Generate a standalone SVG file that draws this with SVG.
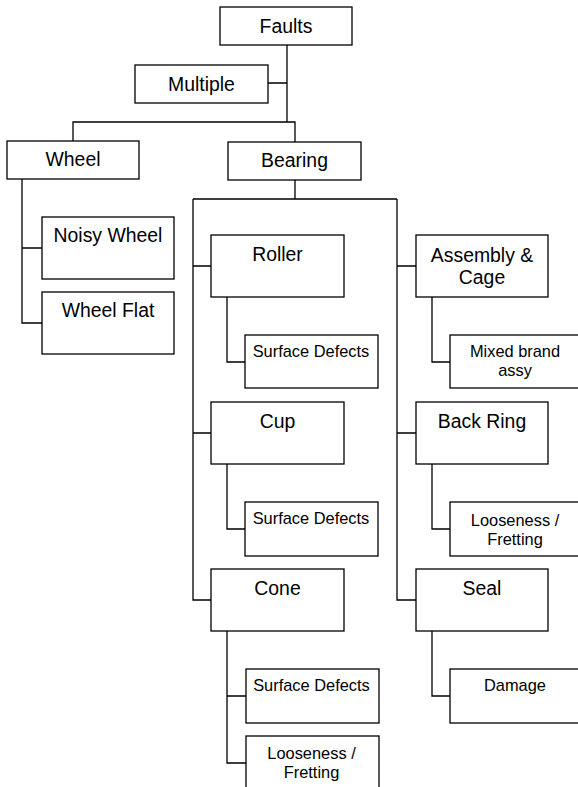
<svg xmlns="http://www.w3.org/2000/svg" width="578" height="787" viewBox="0 0 578 787">
<style>
.box{fill:#fff;stroke:#000;stroke-width:1.3}
.c{fill:none;stroke:#000;stroke-width:1.3}
text{font-family:"Liberation Sans",Arial,sans-serif;fill:#000;text-anchor:middle}
.l{font-size:19.4px}
.s{font-size:16.4px}
</style>
<rect width="578" height="787" fill="#fff"/>
<g id="connectors">
<path class="c" d="M287,45V122M268,83H287M73,141V122H295V142"/>
<path class="c" d="M295,180V199M193,199H397"/>
<path class="c" d="M193,199V600H211M193,266H211M193,433H211"/>
<path class="c" d="M397,199V600H416M397,266H416M397,433H416"/>
<path class="c" d="M22,179V323H42M22,248H42"/>
<path class="c" d="M227,297V362H245M227,464V529H245M227,631V763H246M227,696H246"/>
<path class="c" d="M432,297V362H450M432,464V529H450M432,631V696H450"/>
</g>
<g id="faults"><rect class="box" x="220" y="7" width="132" height="38"/><text class="l" x="286" y="33">Faults</text></g>
<g id="multiple"><rect class="box" x="135" y="65" width="133" height="38"/><text class="l" x="201.5" y="90.5">Multiple</text></g>
<g id="wheel"><rect class="box" x="7" y="141" width="132" height="38"/><text class="l" x="73" y="166">Wheel</text></g>
<g id="bearing"><rect class="box" x="228" y="142" width="133" height="38"/><text class="l" x="294.5" y="167">Bearing</text></g>
<g id="noisy-wheel"><rect class="box" x="42" y="217" width="132" height="62"/><text class="l" x="108" y="242">Noisy Wheel</text></g>
<g id="wheel-flat"><rect class="box" x="42" y="292" width="132" height="62"/><text class="l" x="108" y="317">Wheel Flat</text></g>
<g id="roller"><rect class="box" x="211" y="235" width="133" height="62"/><text class="l" x="277.5" y="261">Roller</text></g>
<g id="roller-surface"><rect class="box" x="245" y="335" width="133" height="53"/><text class="s" x="311" y="357">Surface Defects</text></g>
<g id="cup"><rect class="box" x="211" y="402" width="133" height="62"/><text class="l" x="277.5" y="428">Cup</text></g>
<g id="cup-surface"><rect class="box" x="245" y="502" width="133" height="54"/><text class="s" x="311" y="524">Surface Defects</text></g>
<g id="cone"><rect class="box" x="211" y="569" width="133" height="62"/><text class="l" x="277.5" y="595">Cone</text></g>
<g id="cone-surface"><rect class="box" x="246" y="669" width="133" height="54"/><text class="s" x="311.5" y="691">Surface Defects</text></g>
<g id="cone-looseness"><rect class="box" x="246" y="736" width="133" height="64"/><text class="s" x="311.5" y="759">Looseness /</text><text class="s" x="311.5" y="778">Fretting</text></g>
<g id="assembly"><rect class="box" x="416" y="235" width="132" height="62"/><text class="l" x="482" y="262">Assembly &amp;</text><text class="l" x="482" y="283.5">Cage</text></g>
<g id="mixed-brand"><rect class="box" x="450" y="335" width="133" height="53"/><text class="s" x="515" y="357">Mixed brand</text><text class="s" x="515" y="376">assy</text></g>
<g id="back-ring"><rect class="box" x="416" y="402" width="132" height="62"/><text class="l" x="482" y="428">Back Ring</text></g>
<g id="back-ring-looseness"><rect class="box" x="450" y="502" width="133" height="54"/><text class="s" x="515" y="526">Looseness /</text><text class="s" x="515" y="545">Fretting</text></g>
<g id="seal"><rect class="box" x="416" y="569" width="132" height="62"/><text class="l" x="482" y="595">Seal</text></g>
<g id="damage"><rect class="box" x="450" y="669" width="133" height="54"/><text class="s" x="515" y="691">Damage</text></g>
</svg>
